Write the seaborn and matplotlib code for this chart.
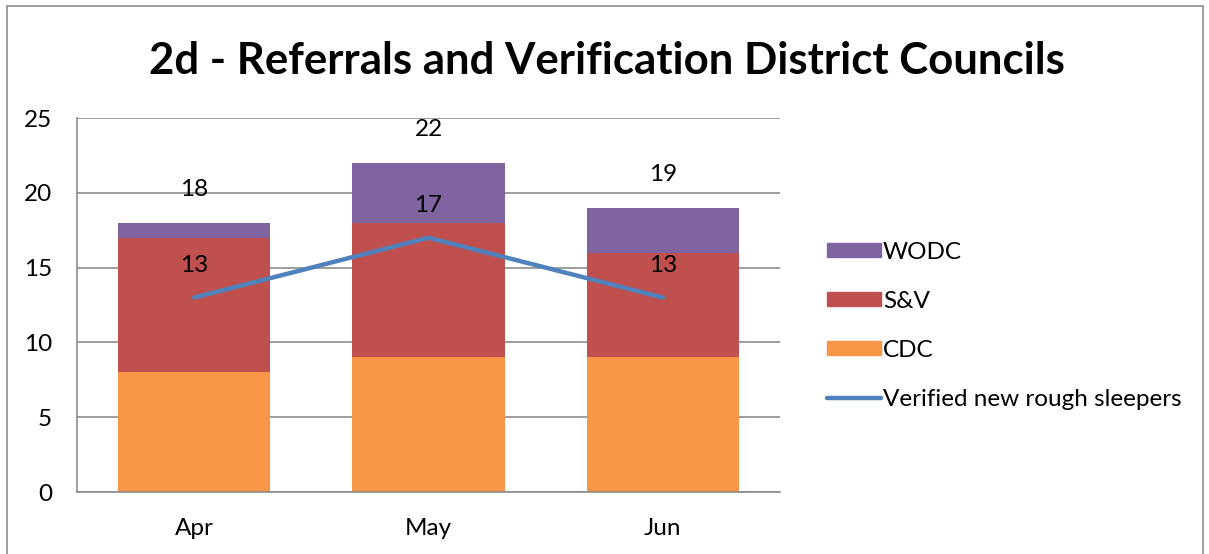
import pandas as pd
import matplotlib.pyplot as plt
import seaborn as sns
from matplotlib.patches import Patch, Rectangle
from matplotlib.lines import Line2D

# data
months = ["Apr", "May", "Jun"]
cdc = [8, 9, 9]
sv = [9, 9, 7]
wodc = [1, 4, 3]
verified = [13, 17, 13]

totals = [a + b + c for a, b, c in zip(cdc, sv, wodc)]
sv_bottom = cdc
wodc_bottom = [a + b for a, b in zip(cdc, sv)]

c_cdc = "#F79646"
c_sv = "#C0504D"
c_wodc = "#8064A2"
c_line = "#4F81BD"

sns.set_style("white")
plt.rcParams["font.family"] = ["Lato", "DejaVu Sans"]
plt.rcParams["text.color"] = "black"
plt.rcParams["xtick.color"] = "black"
plt.rcParams["ytick.color"] = "black"

fig = plt.figure(figsize=(12.09, 5.54), dpi=100)
ax = fig.add_axes([0.0637, 0.1119, 0.5815, 0.675])

df = pd.DataFrame({"month": months, "cdc": cdc, "sv": sv, "wodc": wodc,
                   "sv_bottom": sv_bottom, "wodc_bottom": wodc_bottom,
                   "verified": verified})

# stacked bars
sns.barplot(data=df, x="month", y="cdc", color=c_cdc, width=0.65,
            saturation=1, linewidth=0, ax=ax, zorder=2)
sns.barplot(data=df, x="month", y="sv", bottom=df["sv_bottom"], color=c_sv,
            width=0.65, saturation=1, linewidth=0, ax=ax, zorder=2)
sns.barplot(data=df, x="month", y="wodc", bottom=df["wodc_bottom"], color=c_wodc,
            width=0.65, saturation=1, linewidth=0, ax=ax, zorder=2)

xpos = list(range(len(months)))
ax.plot(xpos, verified, color=c_line, linewidth=3.2, solid_capstyle="round", zorder=3)

# data labels
for i in xpos:
    ax.annotate(str(totals[i]), (i, totals[i]), xytext=(0, 24), textcoords="offset points",
                ha="center", va="center", fontsize=17.5, color="black")
    ax.annotate(str(verified[i]), (i, verified[i]), xytext=(0, 23), textcoords="offset points",
                ha="center", va="center", fontsize=17.5, color="black")

ax.set_ylim(0, 25)
ax.set_xlim(-0.5, 2.5)
ax.set_yticks([0, 5, 10, 15, 20, 25])
ax.yaxis.grid(True, color="#8C8C8C", linewidth=1.2, zorder=0)
ax.set_axisbelow(True)
ax.set_xlabel("")
ax.set_ylabel("")
ax.tick_params(axis="both", labelsize=17.5, length=0)
ax.tick_params(axis="y", pad=18)
ax.tick_params(axis="x", pad=19)

for s in ["top", "right"]:
    ax.spines[s].set_visible(False)
for s in ["left", "bottom"]:
    ax.spines[s].set_color("#8C8C8C")
    ax.spines[s].set_linewidth(1.2)

fig.text(0.502, 0.89, "2d - Referrals and Verification District Councils",
         ha="center", va="center", fontsize=31.5, fontweight="bold", color="black")

handles = [Patch(color=c_wodc, label="WODC"),
           Patch(color=c_sv, label="S&V"),
           Patch(color=c_cdc, label="CDC"),
           Line2D([0], [0], color=c_line, linewidth=3.2, label="Verified new rough sleepers")]
fig.legend(handles=handles, loc="center left", bbox_to_anchor=(0.666, 0.412),
           frameon=False, fontsize=17.5, handlelength=2.2, handleheight=0.5,
           handletextpad=0.1, labelspacing=1.15)

fig.patches.append(Rectangle((0.006, -0.01), 0.989, 1.0, transform=fig.transFigure,
                             fill=False, edgecolor="#8C8C8C", linewidth=1.2))

fig.savefig("out.png", dpi=100)
